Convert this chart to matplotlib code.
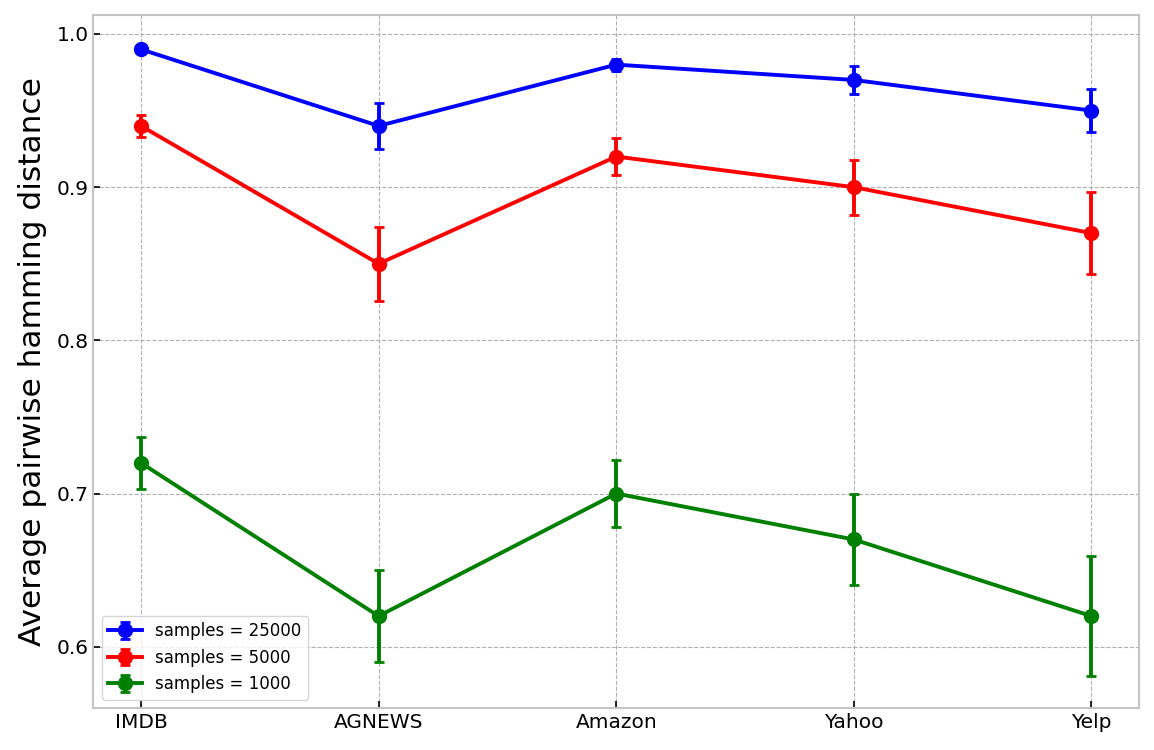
import matplotlib
matplotlib.use('Agg')
import matplotlib.pyplot as plt
import numpy as np

datasets = ['IMDB', 'AGNEWS', 'Amazon', 'Yahoo', 'Yelp']

mean_25000 = [0.99, 0.94, 0.98, 0.97, 0.95]
err_25000 = [0.001, 0.015, 0.004, 0.009, 0.014]

mean_5000 = [0.94, 0.85, 0.92, 0.90, 0.87]
err_5000 = [0.007, 0.024, 0.012, 0.018, 0.027]

mean_1000 = [0.72, 0.62, 0.70, 0.67, 0.62]
err_1000 = [0.017, 0.030, 0.022, 0.030, 0.039]

series = [
    (mean_25000, err_25000, 'blue', 'samples = 25000'),
    (mean_5000, err_5000, 'red', 'samples = 5000'),
    (mean_1000, err_1000, 'green', 'samples = 1000'),
]

fig, ax = plt.subplots(figsize=(11.54, 7.5), dpi=100)
x = np.arange(len(datasets))

for mean, err, color, label in series:
    ax.errorbar(x, mean, yerr=err, color=color, marker='o', markersize=10,
                linewidth=2.8, elinewidth=2.8, capsize=3.5, capthick=2, label=label)

ax.set_xticks(x)
ax.set_xticklabels(datasets)
ax.set_yticks([0.6, 0.7, 0.8, 0.9, 1.0])
ax.set_ylim(0.56, 1.0124)
ax.set_ylabel('Average pairwise hamming distance', fontsize=22.5, labelpad=7)
ax.tick_params(axis='both', direction='in', labelsize=14.5, length=5, width=1.2)
ax.grid(True, linestyle='--', color='#b0b0b0', linewidth=0.8)
for s in ax.spines.values():
    s.set_color('#c4c4c4')
    s.set_linewidth(1.5)
ax.legend(loc='lower left', fontsize=12)

fig.subplots_adjust(left=0.081, right=0.987, top=0.98, bottom=0.056)
fig.savefig('out.png')
